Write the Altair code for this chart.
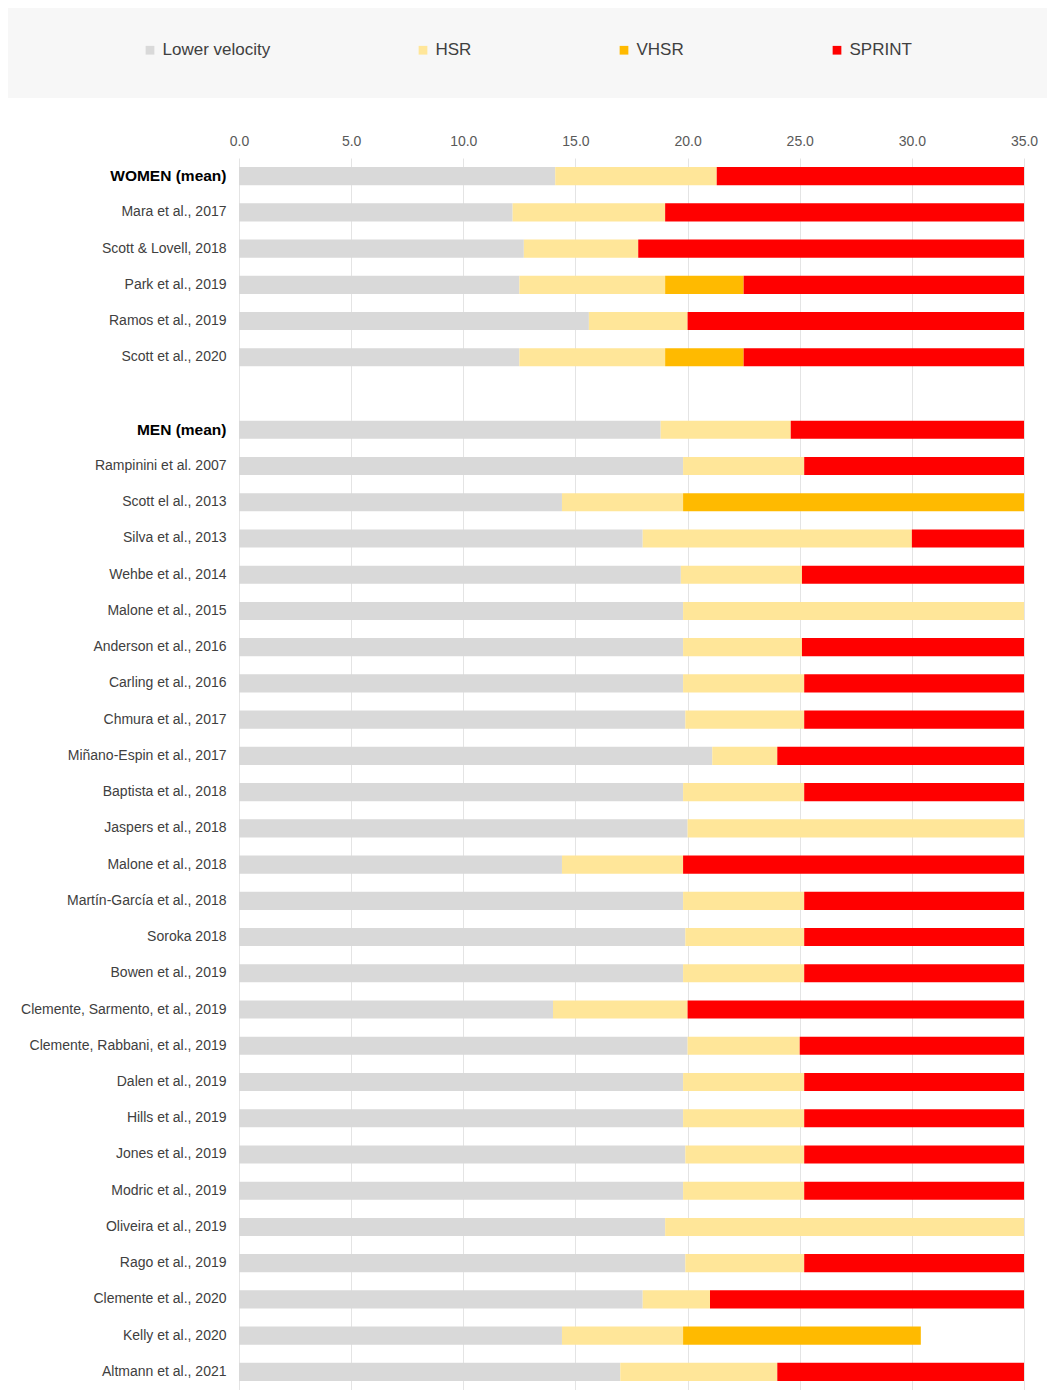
import altair as alt
import pandas as pd

# ---- data ----
studies = [
    "WOMEN (mean)", "Mara et al., 2017", "Scott & Lovell, 2018", "Park et al., 2019",
    "Ramos et al., 2019", "Scott et al., 2020", " ",
    "MEN (mean)", "Rampinini et al. 2007", "Scott el al., 2013", "Silva et al., 2013",
    "Wehbe et al., 2014", "Malone et al., 2015", "Anderson et al., 2016",
    "Carling et al., 2016", "Chmura et al., 2017", "Miñano-Espin et al., 2017",
    "Baptista et al., 2018", "Jaspers et al., 2018", "Malone et al., 2018",
    "Martín-García et al., 2018", "Soroka 2018", "Bowen et al., 2019",
    "Clemente, Sarmento, et al., 2019", "Clemente, Rabbani, et al., 2019",
    "Dalen et al., 2019", "Hills et al., 2019", "Jones et al., 2019",
    "Modric et al., 2019", "Oliveira et al., 2019", "Rago et al., 2019",
    "Clemente et al., 2020", "Kelly et al., 2020", "Altmann et al., 2021",
]

# upper end (km/h) of each zone for each study; None = zone not reported
lower_end = [14.1, 12.2, 12.7, 12.5, 15.6, 12.5, None,
             18.8, 19.8, 14.4, 18.0, 19.7, 19.8, 19.8, 19.8, 19.9, 21.1,
             19.8, 20.0, 14.4, 19.8, 19.9, 19.8, 14.0, 20.0, 19.8, 19.8,
             19.9, 19.8, 19.0, 19.9, 18.0, 14.4, 17.0]
hsr_end = [21.3, 19.0, 17.8, 19.0, 20.0, 19.0, None,
           24.6, 25.2, 19.8, 30.0, 25.1, 35.0, 25.1, 25.2, 25.2, 24.0,
           25.2, 35.0, 19.8, 25.2, 25.2, 25.2, 20.0, 25.0, 25.2, 25.2,
           25.2, 25.2, 35.0, 25.2, 21.0, 19.8, 24.0]
vhsr_end = [None, None, None, 22.5, None, 22.5, None,
            None, None, 35.0, None, None, None, None, None, None, None,
            None, None, None, None, None, None, None, None, None, None,
            None, None, None, None, None, 30.4, None]
sprint_end = [35.0, 35.0, 35.0, 35.0, 35.0, 35.0, None,
              35.0, 35.0, None, 35.0, 35.0, None, 35.0, 35.0, 35.0, 35.0,
              35.0, None, 35.0, 35.0, 35.0, 35.0, 35.0, 35.0, 35.0, 35.0,
              35.0, 35.0, None, 35.0, 35.0, None, 35.0]

zones = ["Lower velocity", "HSR", "VHSR", "SPRINT"]
zone_colors = ["#d9d9d9", "#ffe699", "#ffba00", "#ff0000"]
x_ticks = [0, 5, 10, 15, 20, 25, 30, 35]
bold_labels = ["WOMEN (mean)", "MEN (mean)"]

# ---- build segment table ----
rows = []
for i, s in enumerate(studies):
    prev = 0.0
    for z, ends in zip(zones, [lower_end, hsr_end, vhsr_end, sprint_end]):
        e = ends[i]
        if e is None:
            continue
        rows.append({"study": s, "zone": z, "start": prev, "end": e})
        prev = e
df = pd.DataFrame(rows)

bold_js = "[" + ",".join("'" + b + "'" for b in bold_labels) + "]"
is_bold = f"indexof({bold_js}, datum.value) >= 0"

band = alt.Chart(pd.DataFrame({"k": [0]})).mark_rect(color="#f7f7f7").encode(
    x=alt.value(-231), x2=alt.value(808), y=alt.value(-150), y2=alt.value(-60)
)

bars = alt.Chart(df).mark_bar().encode(
    x=alt.X("start:Q",
            scale=alt.Scale(domain=[0, 35], nice=False),
            axis=alt.Axis(orient="top", values=x_ticks, format=".1f", title=None,
                          domain=False, ticks=False, tickSize=0, labelPadding=10,
                          labelFlush=False,
                          labelFont="Liberation Sans", labelFontSize=14,
                          labelColor="#595959", grid=True, gridColor="#e4e4e4",
                          gridWidth=1)),
    x2="end:Q",
    y=alt.Y("study:N",
            scale=alt.Scale(domain=studies, paddingInner=0.5, paddingOuter=0.25),
            axis=alt.Axis(title=None, domain=False, ticks=False, tickSize=0,
                          labelPadding=13, labelFont="Liberation Sans",
                          labelFontSize=alt.ExprRef(expr=f"{is_bold} ? 15.5 : 14"),
                          labelFontWeight=alt.ExprRef(expr=f"{is_bold} ? 'bold' : 'normal'"),
                          labelColor=alt.ExprRef(expr=f"{is_bold} ? '#000000' : '#404040'"),
                          labelLimit=400, grid=False)),
    color=alt.Color("zone:N",
                    scale=alt.Scale(domain=zones, range=zone_colors),
                    legend=alt.Legend(title=None, orient="none", legendX=-97.5,
                                      legendY=-116.5, direction="horizontal",
                                      columns=4, columnPadding=144,
                                      symbolType="square", symbolSize=76,
                                      symbolStrokeWidth=0, labelOffset=4,
                                      labelFont="Liberation Sans", labelFontSize=17,
                                      labelColor="#404040", padding=0)),
)

chart = alt.layer(band, bars).properties(
    width=785, height=1232, padding=0
).configure_view(strokeWidth=0)

chart.save("out.html", embed_options={"renderer": "svg", "actions": False})
